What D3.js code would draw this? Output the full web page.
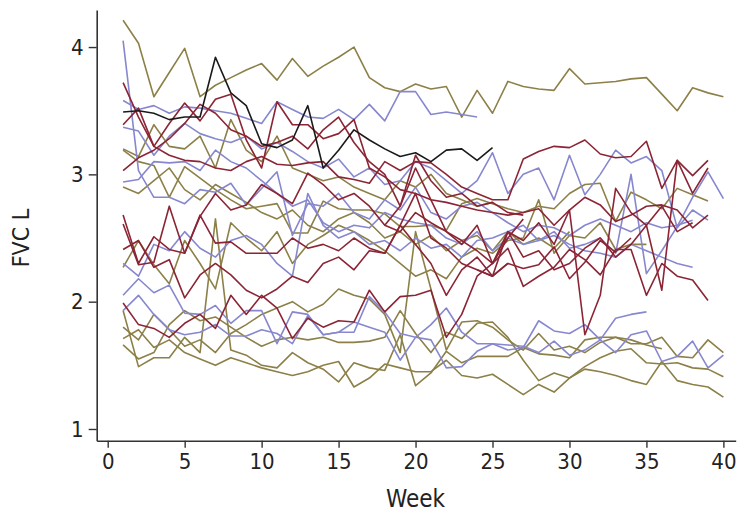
<!DOCTYPE html>
<html><head><meta charset="utf-8">
<script src="https://cdn.jsdelivr.net/npm/d3@7"></script>
<style>
html,body{margin:0;padding:0;background:#fff;}
svg text{font-family:"DejaVu Sans Condensed","Liberation Sans Narrow","Roboto",sans-serif;fill:#222;}
</style></head>
<body><svg id="c" width="745" height="516"></svg>
<script>
// ---- data (week index starts at "start") ----
const xTicks = [0,5,10,15,20,25,30,35,40];
const yTicks = [1,2,3,4];
const xLabel = "Week";
const yLabel = "FVC L";

const blackSeries = [
  {start:1, values:[3.49,3.50,3.48,3.43,3.45,3.45,3.92,3.64,3.54,3.24,3.21,3.27,3.54,3.05,3.19,3.35,3.27,3.20,3.14,3.17,3.10,3.19,3.20,3.11,3.21]}
];
const oliveSeries = [
  {start:1, values:[4.21,4.03,3.61,3.80,3.99,3.61,3.70,3.76,3.82,3.87,3.74,3.91,3.77,3.85,3.92,4.00,3.76,3.68,3.65,3.71,3.67,3.69,3.45,3.66,3.48,3.73,3.69,3.67,3.66,3.83,3.71,3.72,3.73,3.75,3.76,3.63,3.50,3.68,3.64,3.61]},
  {start:1, values:[3.19,3.10,3.07,2.82,3.06,2.97,2.88,2.80,2.73,2.75,2.77,2.54,2.54,2.79,2.73,2.72,2.72,2.69,2.59,2.59,2.60,2.56,2.77,2.81,2.77,2.73,2.70,2.75,2.73,2.85,2.92,2.93,2.63,2.86,2.80,2.73,2.89,2.84,2.79]},
  {start:1, values:[3.20,3.14,3.39,3.22,3.20,3.30,3.05,3.43,3.19,3.10,3.30,3.05,3.00,2.95,2.98,2.90,2.85,2.80,2.95,2.90,3.00,2.85,2.80,2.75,2.78]},
  {start:1, values:[2.27,2.48,2.29,2.14,2.48,2.30,2.10,2.62,2.50,2.40,2.55,2.30,2.45,2.52,2.60,2.55,2.48,2.40,2.30,2.20,2.25,2.18,2.35,2.42,2.38,2.48,2.50,2.80,2.38,2.52,2.50,2.62,2.41,2.45,2.45]},
  {start:1, values:[1.93,1.49,1.56,1.56,1.72,1.60,2.65,1.62,1.58,1.50,1.48,1.60,1.52,1.47,1.37,1.52,1.48,1.46,1.74,1.34,1.44,1.61,1.52,1.57,1.57,1.57,1.64,1.59,1.58,1.56,1.70,1.72,1.72,1.67,1.67,1.72,1.57,1.56,1.70,1.60]},
  {start:1, values:[1.71,1.78,1.64,1.70,1.60,1.55,1.50,1.56,1.52,1.48,1.45,1.42,1.45,1.50,1.53,1.33,1.40,1.51,1.48,1.45,1.45,1.54,1.42,1.40,1.43,1.35,1.27,1.35,1.29,1.40,1.47,1.45,1.42,1.38,1.35,1.53,1.38,1.35,1.33,1.25]},
  {start:1, values:[1.66,1.55,1.60,1.82,1.93,1.85,1.88,1.80,1.72,1.65,1.70,1.72,1.70,1.72,1.68,1.68,1.69,1.72,1.93,1.75,1.60,1.76,1.71,1.83,1.84,1.72,1.54,1.38,1.44,1.40,1.49,1.56,1.61,1.63,1.52,1.51,1.52,1.48,1.47,1.41]},
  {start:1, values:[1.80,1.70,1.90,1.78,1.65,1.70,1.60,1.75,1.82,1.90,1.95,2.00,1.92,1.98,2.10,2.05,2.02,1.90,1.60,2.55,2.10,1.62,1.84,1.85,1.80,1.70,1.62,1.75,1.62,1.65,1.60,1.68,1.72,1.70,1.66,1.63]},
  {start:1, values:[2.90,2.85,2.95,3.05,2.88,2.80,2.92,2.85,2.78,2.70,2.65,2.72,2.60,2.55,2.65,2.70,2.62,2.50,2.55,2.45,2.52,2.40,2.48,2.52,2.40,2.55,2.45,2.50,2.42,2.55]}
];
const redSeries = [
  {start:1, values:[3.72,3.45,3.22,3.15,3.11,3.10,3.05,3.03,3.10,3.14,3.08,3.07,3.09,3.10,2.98,2.96,2.93,3.10,3.03,3.10,3.09,3.00,2.90,2.85,2.80,2.80,3.12,3.18,3.22,3.21,3.27,3.16,3.13,3.14,3.26,2.89,3.11,2.99,3.11]},
  {start:1, values:[3.39,3.52,3.22,3.40,3.56,3.42,3.59,3.63,3.27,3.05,3.57,3.39,3.39,3.28,3.32,3.43,3.05,2.98,2.88,2.85,2.80,2.78,2.75,2.72,2.70,2.68,2.70,2.73,2.60,2.72,2.82,2.76,2.63,2.68,2.75,2.76,2.72,2.58,2.68]},
  {start:1, values:[2.68,2.30,2.51,2.41,2.38,2.68,2.46,2.47,2.38,2.38,2.38,2.50,2.42,2.45,2.40,2.50,2.42,2.38,2.60,2.85,2.50,2.42,2.30,2.25,2.20,2.30,2.26,2.29,2.43,2.18,2.31,2.48,2.39,2.50]},
  {start:1, values:[2.61,2.29,2.31,2.75,2.38,2.67,2.85,2.72,2.76,2.92,2.85,2.77,3.01,2.92,2.80,2.85,2.75,2.60,2.55,2.70,2.62,2.55,2.48,2.40,2.30,2.42,2.12,2.20,2.27,2.41,2.33,2.21,2.41,2.41,2.05,2.30,2.20,2.17,2.01]},
  {start:1, values:[2.41,2.48,2.27,2.33,2.03,2.21,2.30,2.21,2.09,2.03,2.10,2.20,2.15,2.30,2.35,2.25,2.40,2.38,2.60,2.45,2.30,2.05,2.25,2.35,2.20,2.30]},
  {start:1, values:[1.99,1.82,1.79,1.72,1.83,1.90,1.79,2.05,1.90,2.05,1.95,1.71,1.87,1.80,1.85,1.84,2.09,1.92,2.04,2.05,2.09,1.72,1.90,2.20,2.30,2.50,2.65]},
  {start:1, values:[3.03,3.13,3.19,3.28,3.40,3.55,3.48,3.35,3.30,3.22,3.25,3.30,3.20,3.35,3.45,3.25,3.10,3.00,2.75,3.15,2.95,2.82,2.85,2.75,2.78,2.70,2.68]},
  {start:18, values:[2.60,2.75,3.05,2.80,2.55,2.45,2.60,2.30,2.55,2.48,2.62,2.45,2.72,1.74,2.05,2.89,2.70,2.60,2.75,2.55,2.62]},
  {start:24, values:[2.25,2.20,2.55,2.35,2.40,2.25,2.30,2.42,2.50,2.35,2.45,2.60,2.09,3.11,2.85,3.05]}
];
const lavenderSeries = [
  {start:1, values:[4.05,3.03,2.82,2.82,2.77,2.88,2.86,2.93,2.76,2.89,3.02,2.52,2.77,2.75,2.85,2.70,2.65,2.80,2.72,2.90,2.70,2.65,2.75,2.78,2.70,2.62,2.55,2.60,2.58,2.52,2.60,2.65,2.60,2.55,2.62,2.58,2.60,2.64]},
  {start:1, values:[3.58,3.51,3.54,3.48,3.53,3.52,3.50,3.48,3.44,3.40,3.57,3.51,3.45,3.44,3.51,3.43,3.55,3.42,3.65,3.65,3.47,3.49,3.47,3.45]},
  {start:1, values:[3.37,3.34,3.15,3.30,3.40,3.32,3.28,3.25,3.30,3.20,3.25,3.18,3.10,3.05,3.12,2.98,3.05,2.92,2.95,3.10,3.05,2.95,2.85,2.95,3.17,2.85,3.00,3.05,2.80,3.15,2.84,3.00,3.19,3.09,3.14,3.03,2.58,2.72,2.64]},
  {start:1, values:[2.94,2.96,3.10,3.09,3.10,3.03,3.19,3.10,3.05,2.95,2.85,2.75,2.80,2.62,2.55,2.60,2.58,2.70,2.65,2.62,2.60,2.50,2.45,2.55,2.40,2.50,2.45,2.48,2.55,2.42,2.45,2.50,2.38,3.00,2.22,2.40,2.59,2.82,3.02,2.81]},
  {start:1, values:[2.05,2.18,2.07,2.13,1.91,1.90,1.97,1.83,1.93,1.93,1.67,1.92,1.90,1.74,1.76,1.76,2.04,1.92,1.75,1.72,1.70,1.48,1.49,1.61,1.67,1.62,1.64,1.85,1.77,1.75,1.82,1.70,1.60,1.74,1.77,1.53,1.57,1.69,1.48,1.58]},
  {start:1, values:[1.93,2.05,1.90,1.78,1.74,1.76,1.82,1.73,1.73,1.78,1.75,1.67,1.89,1.74,1.76,1.84,1.80,1.76,1.54,1.72,1.82,1.95,1.76,1.67,1.67,1.66,1.65,1.60,1.69,1.58,1.62,1.70,1.87,1.90,1.92]},
  {start:1, values:[2.30,2.20,2.45,2.40,2.55,2.42,2.35,2.48,2.52,2.45,2.30,2.20,2.85,2.60,2.50,2.55,2.45,2.48,2.40,2.50,2.42,2.45,2.35,2.48,2.50,2.55,2.60,2.48,2.52,2.45,2.40,2.38,2.35,2.45,2.40,2.35,2.30,2.27]}
];

const colors = {olive:"#8c8048", red:"#8b2535", lavender:"#8787cf", black:"#1a1a1a"};
const fontStack = '"DejaVu Sans Condensed","Liberation Sans Narrow",Roboto,sans-serif';

// ---- chart ----
const svg = d3.select("#c");
const x = d3.scaleLinear().domain([-0.715, 40.8]).range([96.7, 735.7]);
const y = d3.scaleLinear().domain([0.908, 4.291]).range([440.7, 10]);

const line = d3.line().x(d => x(d[0])).y(d => y(d[1]));
function toPts(s){ return s.values.map((v,i)=>[s.start+i, v]); }

const groups = [
  {data: oliveSeries, color: colors.olive},
  {data: lavenderSeries, color: colors.lavender},
  {data: redSeries, color: colors.red},
  {data: blackSeries, color: colors.black}
];
const plot = svg.append("g");
groups.forEach(g => {
  plot.selectAll(null).data(g.data).enter().append("path")
    .attr("d", s => line(toPts(s)))
    .attr("fill","none").attr("stroke", g.color)
    .attr("stroke-width",1.6).attr("stroke-linejoin","round");
});

// axes
const xAxis = d3.axisBottom(x).tickValues(xTicks).tickFormat(d3.format("d")).tickSize(7).tickSizeOuter(0).tickPadding(6);
const yAxis = d3.axisLeft(y).tickValues(yTicks).tickFormat(d3.format("d")).tickSize(8).tickSizeOuter(0).tickPadding(5);
const gx = svg.append("g").attr("transform","translate(0,440.7)").call(xAxis);
const gy = svg.append("g").attr("transform","translate(96.7,0)").call(yAxis);
[gx,gy].forEach(g=>{
  g.selectAll(".domain").attr("stroke","#333").attr("stroke-width",1.6);
  g.selectAll(".tick line").attr("stroke","#333").attr("stroke-width",1.4);
  g.selectAll(".tick text").attr("font-size",22).attr("fill","#222")
   .style("font-family",fontStack);
});
svg.append("text").attr("x", x(20)).attr("y", 507).attr("text-anchor","middle")
  .style("font-family",fontStack).attr("font-size",24).text(xLabel);
svg.append("text").attr("transform","translate(29,238) rotate(-90)")
  .style("font-family",fontStack)
  .attr("text-anchor","middle").attr("font-size",23).text(yLabel);
</script></body></html>
